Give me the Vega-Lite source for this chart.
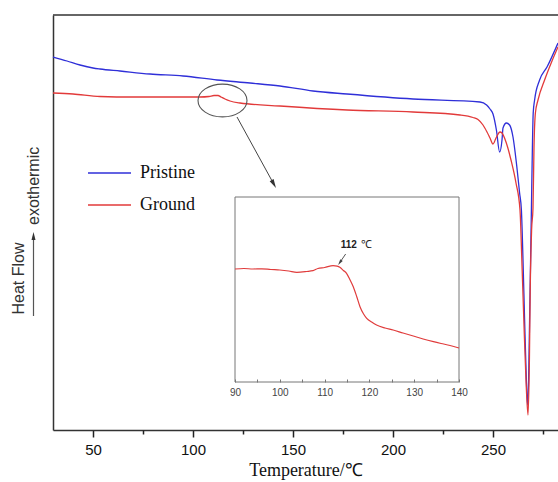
{
  "$schema": "https://vega.github.io/schema/vega-lite/v6.json",
  "width": 505,
  "height": 415,
  "autosize": {"type": "none"},
  "padding": {"left": 53, "top": 15, "right": 0, "bottom": 52},
  "background": "white",
  "config": {"view": {"stroke": null}},
  "datasets": {
    "dsc": [
      {"s": "Pristine", "T": 30, "H": 373}, {"s": "Pristine", "T": 37, "H": 369}, {"s": "Pristine", "T": 43.5, "H": 365},
      {"s": "Pristine", "T": 50, "H": 362}, {"s": "Pristine", "T": 53.5, "H": 361}, {"s": "Pristine", "T": 63.5, "H": 359},
      {"s": "Pristine", "T": 78.5, "H": 356}, {"s": "Pristine", "T": 95, "H": 354}, {"s": "Pristine", "T": 112, "H": 350},
      {"s": "Pristine", "T": 128.5, "H": 347}, {"s": "Pristine", "T": 143.5, "H": 344}, {"s": "Pristine", "T": 160, "H": 339},
      {"s": "Pristine", "T": 177, "H": 336}, {"s": "Pristine", "T": 210, "H": 331}, {"s": "Pristine", "T": 243.5, "H": 328},
      {"s": "Pristine", "T": 246.8, "H": 325}, {"s": "Pristine", "T": 248.5, "H": 321}, {"s": "Pristine", "T": 250, "H": 316},
      {"s": "Pristine", "T": 251.7, "H": 300}, {"s": "Pristine", "T": 253.3, "H": 278}, {"s": "Pristine", "T": 254.5, "H": 290},
      {"s": "Pristine", "T": 255, "H": 302}, {"s": "Pristine", "T": 256.7, "H": 307}, {"s": "Pristine", "T": 258.3, "H": 305},
      {"s": "Pristine", "T": 260, "H": 293}, {"s": "Pristine", "T": 261.7, "H": 267}, {"s": "Pristine", "T": 263.3, "H": 237},
      {"s": "Pristine", "T": 264.2, "H": 220}, {"s": "Pristine", "T": 265, "H": 170}, {"s": "Pristine", "T": 265.8, "H": 110},
      {"s": "Pristine", "T": 266.6, "H": 55}, {"s": "Pristine", "T": 267.3, "H": 25}, {"s": "Pristine", "T": 267.8, "H": 50},
      {"s": "Pristine", "T": 268.3, "H": 110}, {"s": "Pristine", "T": 268.8, "H": 170}, {"s": "Pristine", "T": 269.2, "H": 220},
      {"s": "Pristine", "T": 269.7, "H": 283}, {"s": "Pristine", "T": 270.1, "H": 317}, {"s": "Pristine", "T": 270.8, "H": 330},
      {"s": "Pristine", "T": 273.3, "H": 350}, {"s": "Pristine", "T": 277, "H": 363}, {"s": "Pristine", "T": 282.5, "H": 387},
      {"s": "Ground", "T": 30, "H": 337}, {"s": "Ground", "T": 40, "H": 336}, {"s": "Ground", "T": 53.5, "H": 333.5},
      {"s": "Ground", "T": 70, "H": 333}, {"s": "Ground", "T": 87, "H": 333}, {"s": "Ground", "T": 103.5, "H": 333},
      {"s": "Ground", "T": 108, "H": 333.5}, {"s": "Ground", "T": 110.5, "H": 334.5}, {"s": "Ground", "T": 112.5, "H": 334.5},
      {"s": "Ground", "T": 114, "H": 333}, {"s": "Ground", "T": 116, "H": 331}, {"s": "Ground", "T": 118.5, "H": 329},
      {"s": "Ground", "T": 123.5, "H": 327}, {"s": "Ground", "T": 143.5, "H": 324}, {"s": "Ground", "T": 177, "H": 320},
      {"s": "Ground", "T": 210, "H": 318}, {"s": "Ground", "T": 233.5, "H": 315}, {"s": "Ground", "T": 240, "H": 312.5},
      {"s": "Ground", "T": 242.5, "H": 310.5}, {"s": "Ground", "T": 245, "H": 305}, {"s": "Ground", "T": 247, "H": 298},
      {"s": "Ground", "T": 248.5, "H": 292}, {"s": "Ground", "T": 250, "H": 286}, {"s": "Ground", "T": 251.5, "H": 292},
      {"s": "Ground", "T": 253.5, "H": 298}, {"s": "Ground", "T": 254.5, "H": 297}, {"s": "Ground", "T": 256.5, "H": 288},
      {"s": "Ground", "T": 259, "H": 270}, {"s": "Ground", "T": 261.5, "H": 247}, {"s": "Ground", "T": 263.5, "H": 220},
      {"s": "Ground", "T": 264.5, "H": 165}, {"s": "Ground", "T": 265.5, "H": 105}, {"s": "Ground", "T": 266.5, "H": 50},
      {"s": "Ground", "T": 267.5, "H": 15}, {"s": "Ground", "T": 268.2, "H": 70}, {"s": "Ground", "T": 268.6, "H": 140},
      {"s": "Ground", "T": 269.3, "H": 200}, {"s": "Ground", "T": 270, "H": 222}, {"s": "Ground", "T": 270.5, "H": 283},
      {"s": "Ground", "T": 271.2, "H": 317}, {"s": "Ground", "T": 272.5, "H": 330}, {"s": "Ground", "T": 275.8, "H": 350},
      {"s": "Ground", "T": 279.5, "H": 369}, {"s": "Ground", "T": 282.5, "H": 383}
    ],
    "zoomed": [
      {"T": 90, "H": 113}, {"T": 92, "H": 113.5}, {"T": 94, "H": 113}, {"T": 96, "H": 113.2}, {"T": 98, "H": 112.5},
      {"T": 100, "H": 112}, {"T": 102, "H": 111}, {"T": 103.8, "H": 109.7}, {"T": 106, "H": 110.5}, {"T": 107.4, "H": 111.3},
      {"T": 108.5, "H": 113.5}, {"T": 110, "H": 114.5}, {"T": 111.9, "H": 116.3}, {"T": 112.8, "H": 115.8}, {"T": 113.4, "H": 114.7},
      {"T": 114.2, "H": 111.5}, {"T": 114.9, "H": 108.7}, {"T": 115.7, "H": 102}, {"T": 116.4, "H": 95.3}, {"T": 117.2, "H": 85},
      {"T": 117.9, "H": 75.3}, {"T": 118.7, "H": 68}, {"T": 119.4, "H": 63.7}, {"T": 120.5, "H": 60}, {"T": 121.6, "H": 57},
      {"T": 123.5, "H": 54}, {"T": 125.3, "H": 52}, {"T": 127.5, "H": 49}, {"T": 129.8, "H": 46}, {"T": 132, "H": 43},
      {"T": 134.3, "H": 40.3}, {"T": 136, "H": 38.5}, {"T": 138, "H": 36.5}, {"T": 140, "H": 34}
    ]
  },
  "layer": [
    {
      "layer": [
        {
          "data": {"name": "dsc"},
          "mark": {"type": "line", "strokeWidth": 1.3, "interpolate": "monotone"},
          "encoding": {
            "x": {
              "field": "T", "type": "quantitative",
              "scale": {"domain": [30, 282.5], "nice": false, "zero": false},
              "axis": {
                "orient": "bottom",
                "values": [50, 100, 150, 200, 250],
                "tickSize": 7,
                "tickColor": "#222", "tickWidth": 1.5,
                "domainColor": "#333", "domainWidth": 1.5,
                "grid": false,
                "labelFont": "Liberation Sans", "labelFontSize": 15, "labelColor": "#111", "labelPadding": 5,
                "title": "Temperature/℃", "titleFont": "Liberation Serif", "titleFontSize": 18,
                "titleFontWeight": "normal", "titleColor": "#111", "titlePadding": 4
              }
            },
            "y": {
              "field": "H", "type": "quantitative",
              "scale": {"domain": [0, 415], "nice": false, "zero": false},
              "axis": {
                "orient": "left", "ticks": false, "labels": false, "grid": false,
                "domainColor": "#333", "domainWidth": 1.5,
                "title": "Heat Flow",
                "titleFont": "Liberation Sans", "titleFontSize": 16, "titleFontWeight": "normal",
                "titleColor": "#333", "titleAlign": "left", "titleBaseline": "middle",
                "titleAngle": 270, "titleX": -35, "titleY": 299
              }
            },
            "color": {
              "field": "s", "type": "nominal",
              "scale": {"domain": ["Pristine", "Ground"], "range": ["#2f2fd8", "#e23a3a"]},
              "legend": {
                "orient": "none", "legendX": 34, "legendY": 135.5, "title": null, "padding": 0,
                "symbolType": "stroke", "symbolSize": 1849, "symbolStrokeWidth": 1.3,
                "labelFont": "Liberation Serif", "labelFontSize": 18, "labelColor": "#111",
                "labelOffset": 8, "rowPadding": -14
              }
            }
          }
        },
        {
          "data": {"values": [{"T": 50, "H": 0}]},
          "mark": {"type": "point", "opacity": 0},
          "encoding": {
            "x": {
              "field": "T", "type": "quantitative",
              "axis": {
                "orient": "bottom", "values": [75, 125, 175, 225, 275], "tickSize": 4,
                "tickColor": "#222", "tickWidth": 1.5, "labels": false, "domain": false, "grid": false, "title": null
              }
            },
            "y": {"field": "H", "type": "quantitative"}
          }
        },
        {
          "data": {"values": [{"H": 415}]},
          "mark": {"type": "rule", "color": "#333", "strokeWidth": 1.5},
          "encoding": {"y": {"field": "H", "type": "quantitative"}}
        },
        {
          "data": {"values": [{"T": 20.25, "H": 114, "H2": 194}]},
          "mark": {"type": "rule", "color": "#555", "strokeWidth": 1.2},
          "encoding": {
            "x": {"field": "T", "type": "quantitative", "axis": null},
            "y": {"field": "H", "type": "quantitative"},
            "y2": {"field": "H2"}
          }
        },
        {
          "data": {"values": [{"T": 20.25, "H": 194}]},
          "mark": {"type": "point", "shape": "M 0 -1 L 0.5 1 L -0.5 1 Z", "size": 64, "filled": true, "color": "#333", "opacity": 1, "angle": 0},
          "encoding": {
            "x": {"field": "T", "type": "quantitative", "axis": null},
            "y": {"field": "H", "type": "quantitative"}
          }
        },
        {
          "data": {"values": [{"T": 20.25, "H": 205, "t": "exothermic"}]},
          "mark": {"type": "text", "angle": 270, "align": "left", "baseline": "middle", "font": "Liberation Sans", "fontSize": 16, "color": "#333"},
          "encoding": {
            "x": {"field": "T", "type": "quantitative", "axis": null},
            "y": {"field": "H", "type": "quantitative"},
            "text": {"field": "t"}
          }
        },
        {
          "data": {"values": [{"T": 114.75, "H": 329.5}]},
          "mark": {"type": "point", "shape": "M -1 0 A 1 0.67 0 1 1 1 0 A 1 0.67 0 1 1 -1 0 Z", "size": 2401, "filled": false, "stroke": "#555", "strokeWidth": 1.1, "opacity": 1},
          "encoding": {
            "x": {"field": "T", "type": "quantitative", "axis": null},
            "y": {"field": "H", "type": "quantitative"}
          }
        },
        {
          "data": {"values": [{"T": 122, "H": 313, "T2": 140.4, "H2": 245.9}]},
          "mark": {"type": "rule", "color": "#444", "strokeWidth": 1},
          "encoding": {
            "x": {"field": "T", "type": "quantitative", "axis": null},
            "y": {"field": "H", "type": "quantitative"},
            "x2": {"field": "T2"},
            "y2": {"field": "H2"}
          }
        },
        {
          "data": {"values": [{"T": 140.4, "H": 245.9}]},
          "mark": {"type": "point", "shape": "M 0 -1 L 0.5 1 L -0.5 1 Z", "size": 81, "filled": true, "color": "#333", "opacity": 1, "angle": 151.3},
          "encoding": {
            "x": {"field": "T", "type": "quantitative", "axis": null},
            "y": {"field": "H", "type": "quantitative"}
          }
        }
      ],
      "resolve": {"axis": {"x": "independent"}}
    },
    {
      "layer": [
        {
          "data": {"values": [{"T": 90, "T2": 140, "H": 0, "H2": 185}]},
          "mark": {"type": "rect", "fill": "white", "stroke": "#777", "strokeWidth": 1},
          "encoding": {
            "x": {
              "field": "T", "type": "quantitative",
              "scale": {"domain": [90, 140], "range": [182, 406], "nice": false, "zero": false},
              "axis": {
                "orient": "bottom", "offset": -48, "domain": false, "grid": false, "zindex": 1,
                "values": [90, 95, 100, 105, 110, 115, 120, 125, 130, 135, 140],
                "labelExpr": "datum.value % 10 === 0 ? datum.label : ''",
                "labelFlush": false,
                "tickSize": -3,
                "tickColor": "#777", "tickWidth": 1,
                "labelFont": "Liberation Sans", "labelFontSize": 10, "labelColor": "#444", "labelPadding": 8,
                "title": null
              }
            },
            "x2": {"field": "T2"},
            "y": {
              "field": "H", "type": "quantitative",
              "scale": {"domain": [0, 185], "range": [367, 182], "nice": false, "zero": false},
              "axis": null
            },
            "y2": {"field": "H2"}
          }
        },
        {
          "data": {"name": "zoomed"},
          "mark": {"type": "line", "color": "#e03c3c", "strokeWidth": 1.2, "interpolate": "monotone"},
          "encoding": {
            "x": {"field": "T", "type": "quantitative"},
            "y": {"field": "H", "type": "quantitative"}
          }
        },
        {
          "data": {"values": [{"T": 117.2, "H": 137, "t": "112"}]},
          "mark": {"type": "text", "align": "right", "baseline": "middle", "font": "Liberation Sans", "fontSize": 10, "fontWeight": "bold", "color": "#222"},
          "encoding": {
            "x": {"field": "T", "type": "quantitative"},
            "y": {"field": "H", "type": "quantitative"},
            "text": {"field": "t"}
          }
        },
        {
          "data": {"values": [{"T": 118.1, "H": 137, "t": "℃"}]},
          "mark": {"type": "text", "align": "left", "baseline": "middle", "font": "Liberation Sans", "fontSize": 11, "color": "#222"},
          "encoding": {
            "x": {"field": "T", "type": "quantitative"},
            "y": {"field": "H", "type": "quantitative"},
            "text": {"field": "t"}
          }
        },
        {
          "data": {"values": [{"T": 114.7, "H": 128, "T2": 113.4, "H2": 119.5}]},
          "mark": {"type": "rule", "color": "#555", "strokeWidth": 1},
          "encoding": {
            "x": {"field": "T", "type": "quantitative"},
            "y": {"field": "H", "type": "quantitative"},
            "x2": {"field": "T2"},
            "y2": {"field": "H2"}
          }
        },
        {
          "data": {"values": [{"T": 113.4, "H": 119.5}]},
          "mark": {"type": "point", "shape": "M 0 -1 L 0.5 1 L -0.5 1 Z", "size": 36, "filled": true, "color": "#444", "opacity": 1, "angle": 214.8},
          "encoding": {
            "x": {"field": "T", "type": "quantitative"},
            "y": {"field": "H", "type": "quantitative"}
          }
        }
      ]
    }
  ],
  "resolve": {"scale": {"x": "independent", "y": "independent"}}
}
